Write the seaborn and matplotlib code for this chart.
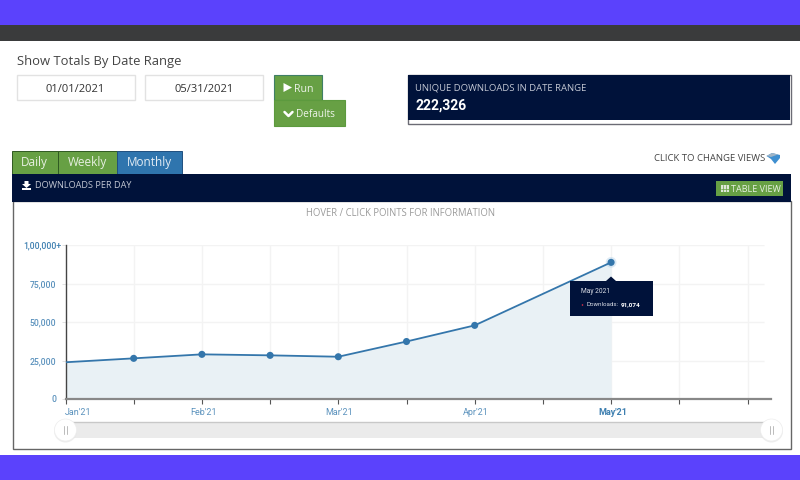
import pandas as pd
import matplotlib.pyplot as plt
from matplotlib.patches import Rectangle, Polygon, Circle
from matplotlib.transforms import ScaledTranslation
import seaborn as sns

# Values
tick_pos = [0, 2, 4, 6, 8]
tick_names = ["Jan'21", "Feb'21", "Mar'21", "Apr'21", "May'21"]
half_months = [0, 1, 2, 3, 4, 5, 6, 8]
downloads = [23900, 26450, 29050, 28400, 27500, 37400, 47900, 88900]
y_ticks = [0, 25000, 50000, 75000, 100000]
y_names = ["0", "25,000", "50,000", "75,000", "1,00,000+"]

NAVY = "#00123a"
GREEN = "#67a044"
BLUE = "#2f75ae"
LINE = "#3476ab"
LABEL = "#5b92bd"

sns.set_theme(style="white")
plt.rcParams["font.family"] = ["Open Sans", "DejaVu Sans"]

fig = plt.figure(figsize=(8, 4.8), dpi=100)


def pixel_axes(zorder):
    a = fig.add_axes([0, 0, 1, 1], zorder=zorder)
    a.set_xlim(0, 800)
    a.set_ylim(480, 0)
    a.axis("off")
    a.patch.set_alpha(0)
    return a


def box(a, x0, y0, x1, y1, fc, ec="none", lw=0.8, z=1):
    a.add_patch(Rectangle((x0, y0), x1 - x0, y1 - y0, fc=fc, ec=ec, lw=lw, zorder=z))


bg = pixel_axes(0)

# Page frame
box(bg, 0, 0, 800, 25, "#5b42fc")
box(bg, 0, 25, 800, 41, "#3a3b3c")
box(bg, 0, 41, 800, 455, "white")
box(bg, 0, 455, 800, 480, "#5b42fc")

# Date range form
bg.text(17, 61, "Show Totals By Date Range", fontsize=9.4, color="#444444", va="center", zorder=3)
box(bg, 17, 75, 134.5, 100, "white", "#e2e2e2", 1)
box(bg, 145, 75, 262.5, 100, "white", "#e2e2e2", 1)
bg.text(75, 89, "01/01/2021", fontsize=8, color="#333333", ha="center", va="center", zorder=3)
bg.text(204.5, 89, "05/31/2021", fontsize=8, color="#333333", ha="center", va="center", zorder=3)

box(bg, 274, 75, 322, 100, GREEN, "#3f7f66", 0.8)
box(bg, 274, 100, 345, 126, GREEN, "#5c9a3e", 0.8)
bg.add_patch(Polygon([[283.5, 83], [283.5, 92], [292, 87.5]], fc="white", ec="none", zorder=3))
bg.text(294, 89, "Run", fontsize=7.6, color="#eef4ea", va="center", zorder=3)
bg.plot([284.5, 288.5, 292.5], [112, 116, 112], color="white", lw=1.8, zorder=3)
bg.text(296, 114.5, "Defaults", fontsize=7.2, color="#eef4ea", va="center", zorder=3)

# Unique downloads box
box(bg, 407.5, 75, 790.5, 124, "white", "#6b6b75", 1)
box(bg, 408, 75, 790, 120, NAVY)
bg.text(415, 87.5, "UNIQUE DOWNLOADS IN DATE RANGE", fontsize=6.8, color="#c2c6d2", va="center", zorder=3)
bg.text(415, 105.5, "222,326", fontsize=10, color="white", fontweight="bold",
        family=["Roboto", "DejaVu Sans"], va="center", zorder=3)

# Tabs
box(bg, 12, 151, 57.5, 174, GREEN, "#2f5a22", 0.7)
box(bg, 57.5, 151, 117, 174, GREEN, "#2f5a22", 0.7)
box(bg, 117, 151, 182, 174, BLUE, "#1f4f7f", 0.7)
bg.text(34.5, 162.5, "Daily", fontsize=8.5, color="#e8f0e2", ha="center", va="center", zorder=3)
bg.text(87.5, 162.5, "Weekly", fontsize=8.5, color="#e8f0e2", ha="center", va="center", zorder=3)
bg.text(149.5, 162.5, "Monthly", fontsize=8.5, color="#e4edf5", ha="center", va="center", zorder=3)

bg.text(654, 158.5, "CLICK TO CHANGE VIEWS", fontsize=6.8, color="#444444", va="center", zorder=3)
bg.add_patch(Polygon([[766.5, 156], [772, 153], [780, 155], [780, 158], [775, 164], [771, 159]],
                     fc="#3f8fd0", ec="none", zorder=3))
bg.add_patch(Polygon([[766.5, 156], [772, 153], [778, 154.5], [771, 157]],
                     fc="#9fb4c6", ec="none", zorder=4))

# Chart panel and its header
box(bg, 12.5, 201, 790.5, 448.5, "white", "#666666", 1)
box(bg, 12, 174, 791, 201.5, NAVY)
bg.add_patch(Polygon([[24.5, 181], [28.5, 181], [28.5, 184], [31, 184], [26.5, 188], [22, 184], [24.5, 184]],
                     fc="white", ec="none", zorder=3))
box(bg, 22, 187.5, 31, 190, "white", z=3)
bg.text(35, 186, "DOWNLOADS PER DAY", fontsize=6.6, color="#c2c6d2", va="center", zorder=3)

box(bg, 716, 180.5, 783, 196, GREEN, z=3)
box(bg, 720.5, 185, 728.5, 192, "#dfe9d8", z=4)
bg.plot([720.5, 728.5], [188.5, 188.5], color=GREEN, lw=0.5, zorder=5)
bg.plot([723.2, 723.2], [185, 192], color=GREEN, lw=0.5, zorder=5)
bg.plot([725.8, 725.8], [185, 192], color=GREEN, lw=0.5, zorder=5)
bg.text(731, 189, "TABLE VIEW", fontsize=6.5, color="#e9f1e4", va="center", zorder=4)
bg.text(401, 213, "HOVER / CLICK POINTS FOR INFORMATION", fontsize=6.85, color="#9a9a9a",
        ha="center", va="center", zorder=3)

# Range slider
box(bg, 65, 422, 771, 438, "#ebebeb", z=2)
bg.plot([65, 771], [422, 422], color="#c8c8c8", lw=1, zorder=2)

# Chart itself
spacing = 68.2
ax = fig.add_axes([65.5 / 800, 81 / 480, 705.5 / 800, 153.7 / 480], zorder=1)
ax.patch.set_alpha(0)
df = pd.DataFrame({"x": half_months, "downloads": downloads})
ax.fill_between(df["x"], df["downloads"], color="#e9f1f5", lw=0, zorder=1)
sns.lineplot(data=df, x="x", y="downloads", color=LINE, lw=1.3, ax=ax, zorder=3)
sns.scatterplot(data=df.iloc[1:], x="x", y="downloads", color=LINE, s=26, edgecolor="none", ax=ax, zorder=4)
sns.scatterplot(data=df.iloc[[-1]], x="x", y="downloads", color="#a9cbe6", s=60, alpha=0.4,
                edgecolor="none", ax=ax, zorder=2)

ax.set_xlim(0, 705.5 / spacing)
ax.set_ylim(0, 100000)
ax.set_xlabel("")
ax.set_ylabel("")
grid_end = 698.5 / spacing
ax.hlines(y_ticks[1:], 0, grid_end, color="#f3f3f3", lw=1, zorder=0)
ax.vlines(range(1, 11), 0, 100000, color="#f3f3f3", lw=1, zorder=0)

sns.despine(ax=ax, top=True, right=True)
ax.spines["left"].set_color("#444444")
ax.spines["left"].set_linewidth(1)
ax.spines["bottom"].set_color("#888888")
ax.spines["bottom"].set_linewidth(1.6)

ax.set_xticks(range(0, 11))
ax.set_xticklabels([tick_names[tick_pos.index(i)] if i in tick_pos else "" for i in range(0, 11)],
                   fontsize=6.5, color=LABEL, family=["Roboto", "DejaVu Sans"])
ax.tick_params(axis="x", length=3.5, width=0.8, color="#555555", pad=3, bottom=True)
ax.set_yticks(y_ticks)
ax.set_yticklabels(y_names, fontsize=6.2, color=LABEL, fontweight="medium", family=["Roboto", "DejaVu Sans"])
ax.tick_params(axis="y", length=3, width=0.6, color="#dddddd", pad=3.5, left=True)

# Month labels sit a little off their ticks
labels = [l for l in ax.get_xticklabels() if l.get_text()]
for l, dx in zip(labels, [12.5, 2, 1, 1, 1.5]):
    l.set_transform(l.get_transform() + ScaledTranslation(dx / 100, 0, fig.dpi_scale_trans))
labels[-1].set_fontweight("bold")
labels[-1].set_color("#3d7fb0")
top = ax.get_yticklabels()[-1]
top.set_transform(top.get_transform() + ScaledTranslation(5 / 100, 0, fig.dpi_scale_trans))
top.set_color("#3d7fb0")

# Tooltip and slider handles over the chart
top_ax = pixel_axes(2)
box(top_ax, 569.5, 281, 653, 315.5, NAVY)
top_ax.add_patch(Polygon([[606, 281], [611, 276.5], [616, 281]], fc=NAVY, ec="none", zorder=2))
top_ax.text(581, 291.5, "May 2021", fontsize=4.8, color="#dde0e8", va="center", zorder=3,
            family=["Roboto", "DejaVu Sans"])
top_ax.add_patch(Circle((582.5, 305), 0.8, fc="#e0304a", ec="none", zorder=3))
top_ax.text(586.5, 305, "Downloads:", fontsize=4.4, color="#dde0e8", va="center", zorder=3,
            family=["Roboto", "DejaVu Sans"])
top_ax.text(621, 305, "91,074", fontsize=4.6, color="white", fontweight="bold", va="center", zorder=3,
            family=["Roboto", "DejaVu Sans"])

for cx in [65.5, 771.5]:
    top_ax.add_patch(Circle((cx, 431), 11.5, fc="#e6e6e6", ec="none", alpha=0.7, zorder=3))
    top_ax.add_patch(Circle((cx, 430), 11, fc="white", ec="#eeeeee", lw=0.5, zorder=4))
    top_ax.plot([cx - 1.2, cx - 1.2], [426, 434], color="#bbbbbb", lw=0.7, zorder=5)
    top_ax.plot([cx + 1.2, cx + 1.2], [426, 434], color="#bbbbbb", lw=0.7, zorder=5)

plt.savefig("out.png", dpi=100)
plt.close()
